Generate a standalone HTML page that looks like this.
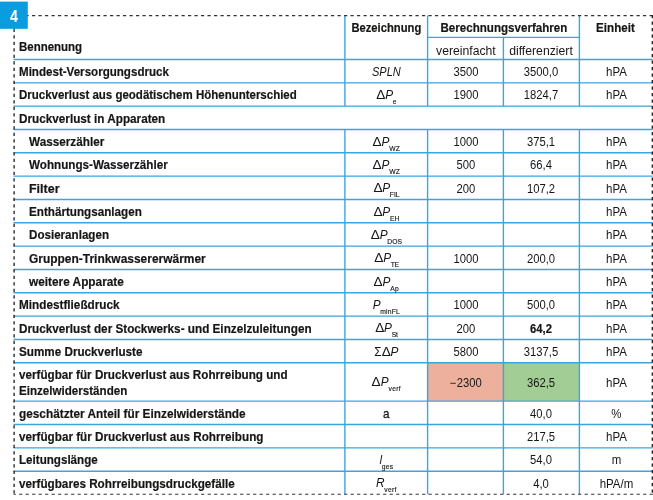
<!DOCTYPE html>
<html lang="de"><head><meta charset="utf-8"><title>Tabelle 4</title>
<style>
html,body{margin:0;padding:0;background:#fff;}
body{width:653px;height:500px;position:relative;overflow:hidden;font-family:"Liberation Sans",sans-serif;color:#161615;}
.t{position:absolute;white-space:nowrap;font-size:11.9px;line-height:14px;transform:rotate(.02deg) scaleX(var(--s,1));}
.b{font-weight:bold;transform-origin:0 50%;--s:.96;-webkit-text-stroke:.18px #161615}
.c b{-webkit-text-stroke:.18px #161615}
.c{text-align:center;--s:.945;transform-origin:50% 50%;}
.cb{--s:.945;}
.cr{--s:1.027;}
.u{--s:.965;}
.sym{font-size:12.8px;--s:.925;}
.sa{font-size:12.6px;-webkit-text-stroke:.3px #1d1d1b;margin-top:.8px}
.sym sub{font-size:7.3px;font-style:normal;vertical-align:-4.6px;line-height:0;margin-left:-.3px;-webkit-text-stroke:.15px #1d1d1b}
.sym .d{display:inline-block;transform:scaleX(1.15);margin:0 .6px}
i{font-style:italic}
.box{position:absolute;left:0;top:1.4px;width:27.6px;height:27.6px;color:#fff;font-weight:bold;font-size:16.8px;line-height:31.4px;text-indent:.4px;text-align:center;}
.box span{display:inline-block;transform:scaleX(.85)}
</style></head><body>

<div style="position:absolute;left:428.1px;top:363.3px;width:75.2px;height:37.3px;background:#ecb09c"></div>
<div style="position:absolute;left:503.8px;top:363.3px;width:75.4px;height:37.3px;background:#a2cd95"></div>
<svg style="position:absolute;left:0;top:0" width="653" height="500" viewBox="0 0 653 500"><path fill="none" stroke="#3aa5e3" stroke-width="1.4" d="M13.5 59.50H652.6M13.5 82.83H652.6M13.5 106.16H652.6M13.5 129.49H652.6M13.5 152.82H652.6M13.5 176.15H652.6M13.5 199.48H652.6M13.5 222.81H652.6M13.5 246.14H652.6M13.5 269.47H652.6M13.5 292.80H652.6M13.5 316.13H652.6M13.5 339.46H652.6M13.5 362.79H652.6M13.5 401.10H652.6M13.5 424.50H652.6M13.5 447.90H652.6M13.5 471.20H652.6M427.6 37.40H579.4M344.90 15.60V106.16M344.90 129.49V494.30M427.60 15.60V106.16M427.60 129.49V494.30M503.40 37.40V106.16M503.40 129.49V494.30M579.40 15.60V106.16M579.40 129.49V494.30"/></svg>
<svg style="position:absolute;left:0;top:0" width="653" height="500" viewBox="0 0 653 500"><rect x="0" y="1.6" width="27.8" height="27.2" fill="#0b9ce0"/><g stroke="#333" stroke-width="1.1" fill="none" stroke-dasharray="3.2 3.3"><path d="M27.5 15.65H652.8" stroke-dashoffset="2"/><path d="M652.3 15.1V494.8" stroke-dashoffset="0" stroke-width="1.3" stroke="#1c1c1c"/><path d="M13.6 494.3H652.8" stroke-dashoffset="1"/><path d="M14.1 28.8V494.8" stroke-dashoffset="0" stroke-width="1.3" stroke="#1c1c1c"/></g></svg>
<div class="box"><span>4</span></div>
<div class="t b" style="left:18.8px;width:300.0px;top:39.95px;--s:0.9653">Bennenung</div>
<div class="t c cb" style="left:344.9px;width:82.7px;top:21.25px;"><b>Bezeichnung</b></div>
<div class="t c" style="left:427.6px;width:151.8px;top:21.25px;--s:.974"><b>Berechnungsverfahren</b></div>
<div class="t c" style="left:579.4px;width:72.9px;top:21.25px;--s:.976"><b>Einheit</b></div>
<div class="t c cr" style="left:427.6px;width:75.8px;top:43.65px;">vereinfacht</div>
<div class="t c cr" style="left:503.4px;width:76.0px;top:43.65px;">differenziert</div>
<div class="t b" style="left:18.8px;width:320.0px;top:65.06px;--s:0.9738">Mindest-Versorgungsdruck</div>
<div class="t c sym" style="left:344.9px;width:82.7px;top:65.06px;--s:.86"><i>SPLN</i></div>
<div class="t c" style="left:427.6px;width:75.8px;top:65.06px;">3500</div>
<div class="t c" style="left:503.4px;width:76.0px;top:65.06px;">3500,0</div>
<div class="t c u" style="left:579.7px;width:72.9px;top:65.06px;">hPA</div>
<div class="t b" style="left:18.8px;width:320.0px;top:88.40px;--s:0.9664">Druckverlust aus geodätischem Höhenunterschied</div>
<div class="t c sym" style="left:344.9px;width:82.7px;top:87.90px;"><span class="d">Δ</span><i>P</i><sub style="letter-spacing:0px">e</sub></div>
<div class="t c" style="left:427.6px;width:75.8px;top:88.40px;">1900</div>
<div class="t c" style="left:503.4px;width:76.0px;top:88.40px;">1824,7</div>
<div class="t c u" style="left:579.7px;width:72.9px;top:88.40px;">hPA</div>
<div class="t b" style="left:18.8px;width:320.0px;top:111.73px;--s:0.9868">Druckverlust in Apparaten</div>
<div class="t b" style="left:28.6px;width:320.0px;top:135.06px;--s:0.9871">Wasserzähler</div>
<div class="t c sym" style="left:344.9px;width:82.7px;top:134.56px;"><span class="d">Δ</span><i>P</i><sub style="letter-spacing:0.3px">WZ</sub></div>
<div class="t c" style="left:427.6px;width:75.8px;top:135.06px;">1000</div>
<div class="t c" style="left:503.4px;width:76.0px;top:135.06px;">375,1</div>
<div class="t c u" style="left:579.7px;width:72.9px;top:135.06px;">hPA</div>
<div class="t b" style="left:28.6px;width:320.0px;top:158.38px;--s:0.981">Wohnungs-Wasserzähler</div>
<div class="t c sym" style="left:344.9px;width:82.7px;top:157.88px;"><span class="d">Δ</span><i>P</i><sub style="letter-spacing:0.3px">WZ</sub></div>
<div class="t c" style="left:427.6px;width:75.8px;top:158.38px;">500</div>
<div class="t c" style="left:503.4px;width:76.0px;top:158.38px;">66,4</div>
<div class="t c u" style="left:579.7px;width:72.9px;top:158.38px;">hPA</div>
<div class="t b" style="left:28.6px;width:320.0px;top:181.72px;--s:1.049">Filter</div>
<div class="t c sym" style="left:344.9px;width:82.7px;top:181.22px;"><span class="d">Δ</span><i>P</i><sub style="letter-spacing:0px">FIL</sub></div>
<div class="t c" style="left:427.6px;width:75.8px;top:181.72px;">200</div>
<div class="t c" style="left:503.4px;width:76.0px;top:181.72px;">107,2</div>
<div class="t c u" style="left:579.7px;width:72.9px;top:181.72px;">hPA</div>
<div class="t b" style="left:28.6px;width:320.0px;top:205.04px;--s:0.9812">Enthärtungsanlagen</div>
<div class="t c sym" style="left:344.9px;width:82.7px;top:204.54px;"><span class="d">Δ</span><i>P</i><sub style="letter-spacing:0px">EH</sub></div>
<div class="t c u" style="left:579.7px;width:72.9px;top:205.04px;">hPA</div>
<div class="t b" style="left:28.6px;width:320.0px;top:228.38px;--s:0.976">Dosieranlagen</div>
<div class="t c sym" style="left:344.9px;width:82.7px;top:227.88px;"><span class="d">Δ</span><i>P</i><sub style="letter-spacing:0px">DOS</sub></div>
<div class="t c u" style="left:579.7px;width:72.9px;top:228.38px;">hPA</div>
<div class="t b" style="left:28.6px;width:320.0px;top:251.70px;--s:1.0056">Gruppen-Trinkwassererwärmer</div>
<div class="t c sym" style="left:344.9px;width:82.7px;top:251.20px;"><span class="d">Δ</span><i>P</i><sub style="letter-spacing:-0.5px">TE</sub></div>
<div class="t c" style="left:427.6px;width:75.8px;top:251.70px;">1000</div>
<div class="t c" style="left:503.4px;width:76.0px;top:251.70px;">200,0</div>
<div class="t c u" style="left:579.7px;width:72.9px;top:251.70px;">hPA</div>
<div class="t b" style="left:28.6px;width:320.0px;top:275.03px;--s:0.9944">weitere Apparate</div>
<div class="t c sym" style="left:344.9px;width:82.7px;top:274.53px;"><span class="d">Δ</span><i>P</i><sub style="letter-spacing:0.4px">Ap</sub></div>
<div class="t c u" style="left:579.7px;width:72.9px;top:275.03px;">hPA</div>
<div class="t b" style="left:18.8px;width:320.0px;top:298.36px;--s:0.9885">Mindestfließdruck</div>
<div class="t c sym" style="left:344.9px;width:82.7px;top:297.86px;"><i>P</i><sub style="letter-spacing:0.2px">minFL</sub></div>
<div class="t c" style="left:427.6px;width:75.8px;top:298.36px;">1000</div>
<div class="t c" style="left:503.4px;width:76.0px;top:298.36px;">500,0</div>
<div class="t c u" style="left:579.7px;width:72.9px;top:298.36px;">hPA</div>
<div class="t b" style="left:18.8px;width:320.0px;top:321.69px;--s:0.9862">Druckverlust der Stockwerks- und Einzelzuleitungen</div>
<div class="t c sym" style="left:344.9px;width:82.7px;top:321.19px;"><span class="d">Δ</span><i>P</i><sub style="letter-spacing:-0.25px">St</sub></div>
<div class="t c" style="left:427.6px;width:75.8px;top:321.69px;">200</div>
<div class="t c" style="left:503.4px;width:76.0px;top:321.69px;"><b>64,2</b></div>
<div class="t c u" style="left:579.7px;width:72.9px;top:321.69px;">hPA</div>
<div class="t b" style="left:18.8px;width:320.0px;top:345.02px;--s:0.9833">Summe Druckverluste</div>
<div class="t c sym" style="left:344.9px;width:82.7px;top:345.02px;">Σ<span class="d">Δ</span><i>P</i></div>
<div class="t c" style="left:427.6px;width:75.8px;top:345.02px;">5800</div>
<div class="t c" style="left:503.4px;width:76.0px;top:345.02px;">3137,5</div>
<div class="t c u" style="left:579.7px;width:72.9px;top:345.02px;">hPA</div>
<div class="t b" style="left:18.8px;top:368.25px;--s:0.9818">verfügbar für Druckverlust aus Rohrreibung und</div>
<div class="t b" style="left:18.8px;top:383.80px;--s:0.9751">Einzelwiderständen</div>
<div class="t c sym" style="left:344.9px;width:82.7px;top:375.34px;"><span class="d">Δ</span><i>P</i><sub style="letter-spacing:0.3px">verf</sub></div>
<div class="t c" style="left:427.6px;width:75.8px;top:375.84px;">−2300</div>
<div class="t c" style="left:503.4px;width:76.0px;top:375.84px;">362,5</div>
<div class="t c u" style="left:579.7px;width:72.9px;top:375.84px;">hPA</div>
<div class="t b" style="left:18.8px;width:320.0px;top:406.70px;--s:0.9933">geschätzter Anteil für Einzelwiderstände</div>
<div class="t c sym sa" style="left:344.9px;width:82.7px;top:406.70px;">a</div>
<div class="t c" style="left:503.4px;width:76.0px;top:406.70px;">40,0</div>
<div class="t c u" style="left:579.7px;width:72.9px;top:406.70px;">%</div>
<div class="t b" style="left:18.8px;width:320.0px;top:430.10px;--s:0.984">verfügbar für Druckverlust aus Rohrreibung</div>
<div class="t c" style="left:503.4px;width:76.0px;top:430.10px;">217,5</div>
<div class="t c u" style="left:579.7px;width:72.9px;top:430.10px;">hPA</div>
<div class="t b" style="left:18.8px;width:320.0px;top:453.45px;--s:0.9769">Leitungslänge</div>
<div class="t c sym" style="left:344.9px;width:82.7px;top:452.95px;"><i>l</i><sub style="letter-spacing:0.25px">ges</sub></div>
<div class="t c" style="left:503.4px;width:76.0px;top:453.45px;">54,0</div>
<div class="t c u" style="left:579.7px;width:72.9px;top:453.45px;">m</div>
<div class="t b" style="left:18.8px;width:320.0px;top:476.65px;--s:0.9833">verfügbares Rohrreibungsdruckgefälle</div>
<div class="t c sym" style="left:344.9px;width:82.7px;top:476.15px;"><i>R</i><sub style="letter-spacing:0.3px">verf</sub></div>
<div class="t c" style="left:503.4px;width:76.0px;top:476.65px;">4,0</div>
<div class="t c u" style="left:579.7px;width:72.9px;top:476.65px;">hPA/m</div>
</body></html>
